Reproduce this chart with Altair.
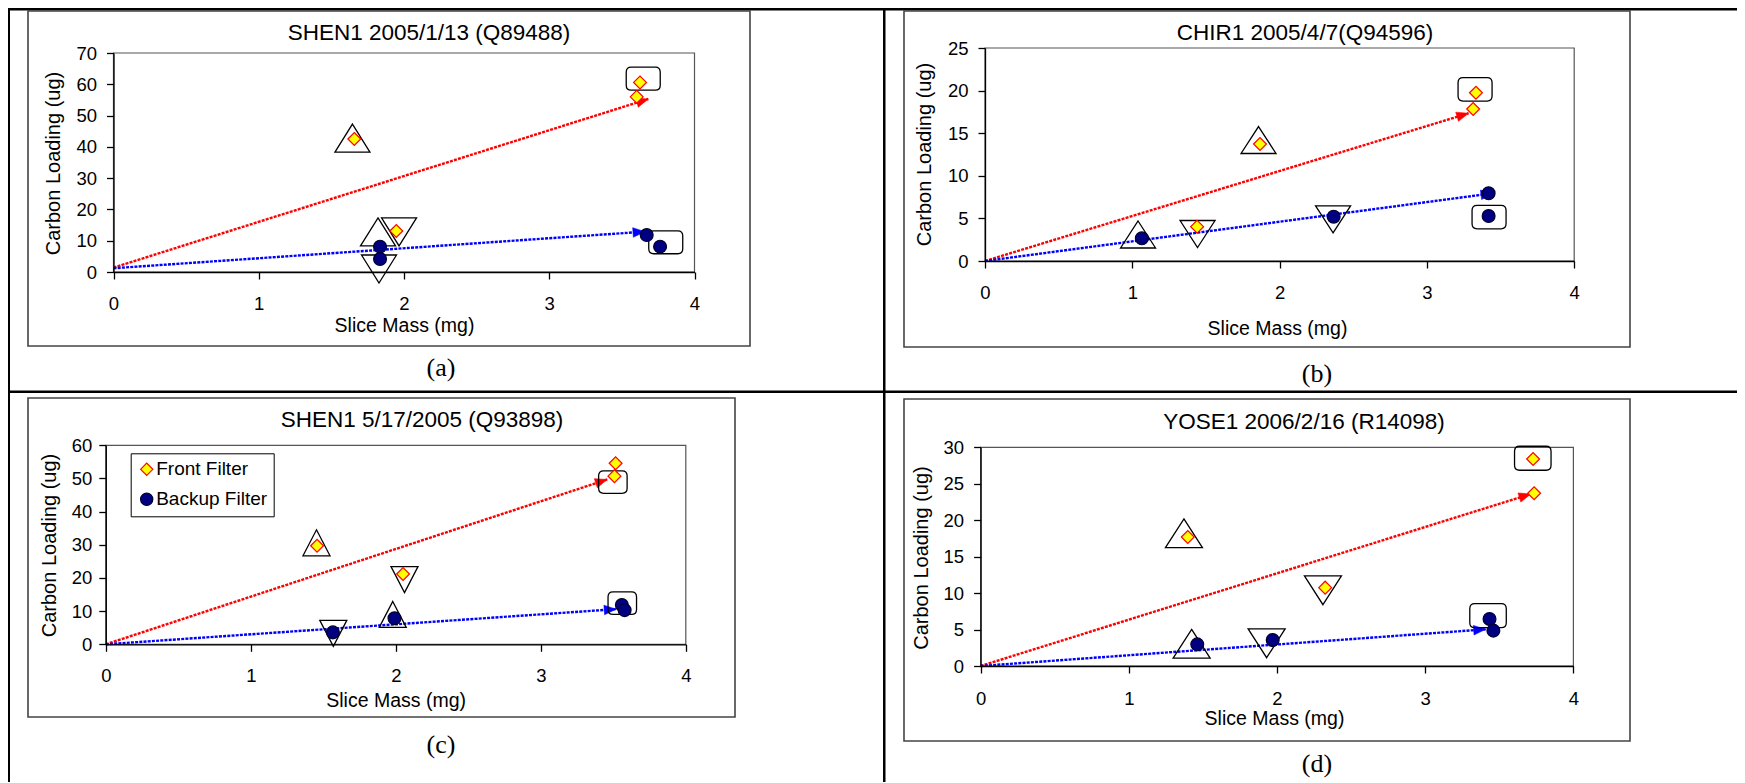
import math
import altair as alt
import pandas as pd

FONT = "Liberation Sans"
SERIF = "Liberation Serif"
SERIES = ["Front Filter", "Backup Filter"]
X_TICKS = [0, 1, 2, 3, 4]
X_TITLE = "Slice Mass (mg)"
Y_TITLE = "Carbon Loading (ug)"

# ---------------- panel (a) ----------------
A_TITLE = "SHEN1 2005/1/13 (Q89488)"
A_Y_TICKS = [0, 10, 20, 30, 40, 50, 60, 70]
A_FRONT_X = [1.658, 1.947, 3.625, 3.602]
A_FRONT_Y = [42.5, 13.1, 60.6, 56.0]
A_BACKUP_X = [1.835, 1.835, 3.671, 3.763]
A_BACKUP_Y = [8.1, 4.15, 11.8, 8.1]
A_RED_ARROW = [0.0, 1.4, 3.682, 55.3]
A_BLUE_ARROW = [0.0, 1.2, 3.659, 12.9]
A_TRI_UP_X = [1.645, 1.821]
A_TRI_UP_Y = [42.8, 12.8]
A_TRI_DOWN_X = [1.966, 1.828]
A_TRI_DOWN_Y = [12.8, 0.96]
A_BOX_X = [3.647, 3.802]
A_BOX_Y = [61.8, 9.5]

# ---------------- panel (b) ----------------
B_TITLE = "CHIR1 2005/4/7(Q94596)"
B_Y_TICKS = [0, 5, 10, 15, 20, 25]
B_FRONT_X = [1.867, 1.44, 3.333, 3.314]
B_FRONT_Y = [13.73, 4.03, 19.75, 17.84]
B_BACKUP_X = [1.065, 2.367, 3.419, 3.419]
B_BACKUP_Y = [2.66, 5.2, 7.95, 5.28]
B_RED_ARROW = [0.0, 0.0, 3.283, 17.34]
B_BLUE_ARROW = [0.0, 0.0, 3.448, 7.95]
B_TRI_UP_X = [1.857, 1.039]
B_TRI_UP_Y = [14.2, 3.11]
B_TRI_DOWN_X = [1.443, 2.363]
B_TRI_DOWN_Y = [3.17, 4.89]
B_BOX_X = [3.327, 3.422]
B_BOX_Y = [20.15, 5.16]

# ---------------- panel (c) ----------------
C_TITLE = "SHEN1 5/17/2005 (Q93898)"
C_Y_TICKS = [0, 10, 20, 30, 40, 50, 60]
C_FRONT_X = [1.457, 2.05, 3.516, 3.508]
C_FRONT_Y = [29.7, 21.2, 54.6, 50.7]
C_BACKUP_X = [1.991, 1.566, 3.559, 3.578]
C_BACKUP_Y = [7.84, 3.6, 11.85, 10.3]
C_RED_ARROW = [0.0, 0.0, 3.458, 49.7]
C_BLUE_ARROW = [0.0, 0.0, 3.52, 10.6]
C_TRI_UP_X = [1.453, 1.979]
C_TRI_UP_Y = [30.6, 9.0]
C_TRI_DOWN_X = [2.06, 1.569]
C_TRI_DOWN_Y = [19.5, 3.3]
C_BOX_X = [3.497, 3.562]
C_BOX_Y = [48.9, 12.4]

# ---------------- panel (d) ----------------
D_TITLE = "YOSE1 2006/2/16 (R14098)"
D_Y_TICKS = [0, 5, 10, 15, 20, 25, 30]
D_FRONT_X = [1.398, 2.325, 3.728, 3.735]
D_FRONT_Y = [17.7, 10.75, 28.4, 23.7]
D_BACKUP_X = [1.462, 1.971, 3.434, 3.46]
D_BACKUP_Y = [2.97, 3.57, 6.45, 4.85]
D_RED_ARROW = [0.0, 0.0, 3.713, 23.6]
D_BLUE_ARROW = [0.0, 0.0, 3.408, 5.03]
D_TRI_UP_X = [1.372, 1.424]
D_TRI_UP_Y = [18.2, 3.05]
D_TRI_DOWN_X = [2.31, 1.93]
D_TRI_DOWN_Y = [10.38, 3.11]
D_BOX_X = [3.726, 3.424]
D_BOX_Y = [28.5, 6.9]

# ---------------- layout / style (pixels inside each table cell) ----------------
LAYOUT = {
    "a": dict(cw=875, ch=382, plot=(105.5, 686.5, 45, 264), box=(20, 742, 3, 338),
              title_xy=(421, 25), xt=(396, 53), yt=(-60.5, 155), lab="(a)", lab_xy=(433, 360),
              ylabpad=10, xlabpad=24, tri=(35, 28), rbox=(34, 23),
              borders=[(0, 875, 0, 2.5), (0, 2, 0, 382)], legend=None),
    "b": dict(cw=854, ch=382, plot=(102, 691.2, 40, 253), box=(21, 747, 3, 339),
              title_xy=(422, 25), xt=(394, 67), yt=(-61, 146), lab="(b)", lab_xy=(434, 366),
              ylabpad=10, xlabpad=24, tri=(35, 27), rbox=(34, 23.5),
              borders=[(0, 854, 0, 2.5), (0, 2.5, 0, 382)], legend=None),
    "c": dict(cw=875, ch=378, plot=(97.8, 677.8, 55.3, 254.3), box=(20, 727, 8, 327),
              title_xy=(414, 30), xt=(387.6, 55.7), yt=(-56.4, 155), lab="(c)", lab_xy=(433, 355),
              ylabpad=7, xlabpad=24, tri=(27, 26), rbox=(28.5, 22.5),
              borders=[(0, 875, 0.5, 3), (0, 2, 0, 392)], legend=(122.7, 63.3)),
    "d": dict(cw=854, ch=378, plot=(97.6, 690.4, 57.3, 276), box=(21, 747, 9, 351),
              title_xy=(421, 32), xt=(391, 52.3), yt=(-59.6, 167.5), lab="(d)", lab_xy=(434, 374),
              ylabpad=10, xlabpad=25, tri=(37, 28.7), rbox=(36.5, 24),
              borders=[(0, 854, 0.5, 3), (0, 2.5, 0, 392)], legend=None),
}

DATA = {
    "a": (A_TITLE, A_Y_TICKS, A_FRONT_X, A_FRONT_Y, A_BACKUP_X, A_BACKUP_Y, A_RED_ARROW, A_BLUE_ARROW,
          A_TRI_UP_X, A_TRI_UP_Y, A_TRI_DOWN_X, A_TRI_DOWN_Y, A_BOX_X, A_BOX_Y),
    "b": (B_TITLE, B_Y_TICKS, B_FRONT_X, B_FRONT_Y, B_BACKUP_X, B_BACKUP_Y, B_RED_ARROW, B_BLUE_ARROW,
          B_TRI_UP_X, B_TRI_UP_Y, B_TRI_DOWN_X, B_TRI_DOWN_Y, B_BOX_X, B_BOX_Y),
    "c": (C_TITLE, C_Y_TICKS, C_FRONT_X, C_FRONT_Y, C_BACKUP_X, C_BACKUP_Y, C_RED_ARROW, C_BLUE_ARROW,
          C_TRI_UP_X, C_TRI_UP_Y, C_TRI_DOWN_X, C_TRI_DOWN_Y, C_BOX_X, C_BOX_Y),
    "d": (D_TITLE, D_Y_TICKS, D_FRONT_X, D_FRONT_Y, D_BACKUP_X, D_BACKUP_Y, D_RED_ARROW, D_BLUE_ARROW,
          D_TRI_UP_X, D_TRI_UP_Y, D_TRI_DOWN_X, D_TRI_DOWN_Y, D_BOX_X, D_BOX_Y),
}

DUMMY = pd.DataFrame({"k": [0]})
ARROW_PATH = "M0,0 L-2,-0.8 L-2,0.8 Z"
ARROW_SIZE = 144


def tri_path(w, h, up=True):
    k = h / w
    if up:
        return f"M0,{-k:.3f} L1,{k:.3f} L-1,{k:.3f} Z"
    return f"M0,{k:.3f} L1,{-k:.3f} L-1,{-k:.3f} Z"


def rbox_path(w, h, r=5.0):
    s = w / 2.0
    k = h / w
    c = r / s
    return (f"M{-1 + c:.3f},{-k:.3f} L{1 - c:.3f},{-k:.3f} Q1,{-k:.3f} 1,{-k + c:.3f} "
            f"L1,{k - c:.3f} Q1,{k:.3f} {1 - c:.3f},{k:.3f} L{-1 + c:.3f},{k:.3f} "
            f"Q-1,{k:.3f} -1,{k - c:.3f} L-1,{-k + c:.3f} Q-1,{-k:.3f} {-1 + c:.3f},{-k:.3f} Z")


def prect(x1, x2, y1, y2, **kw):
    return alt.Chart(DUMMY).mark_rect(**kw).encode(
        x=alt.value(x1), x2=alt.value(x2), y=alt.value(y1), y2=alt.value(y2))


def ptext(txt, x, y, font, size):
    return alt.Chart(DUMMY).mark_text(text=txt, font=font, fontSize=size, color="black",
                                      align="center", baseline="middle").encode(
        x=alt.value(x), y=alt.value(y))


def make_panel(key):
    lay = LAYOUT[key]
    (title, yticks, fx, fy, bx, by, red, blue, tux, tuy, tdx, tdy, rbx, rby) = DATA[key]
    ymax = yticks[-1]
    L, R, T, B = lay["plot"]
    cw, ch = lay["cw"], lay["ch"]

    xaxis = alt.Axis(values=X_TICKS, format="d", orient="bottom", offset=B - ch, tickSize=7,
                     tickWidth=1.3, tickColor="black", domainColor="black", domainWidth=1.3,
                     labelFont=FONT, labelFontSize=18.5, labelColor="black", labelBaseline="middle",
                     labelPadding=lay["xlabpad"], labelFlush=False, grid=False, zindex=1,
                     title=X_TITLE, titleFont=FONT, titleFontSize=19.5, titleFontWeight="normal",
                     titleColor="black", titleX=lay["xt"][0], titleY=lay["xt"][1],
                     titleAlign="center", titleBaseline="middle", titleAngle=0)
    yaxis = alt.Axis(values=yticks, format="d", orient="left", offset=-L, tickSize=7,
                     tickWidth=1.3, tickColor="black", domainColor="black", domainWidth=1.3,
                     labelFont=FONT, labelFontSize=18.5, labelColor="black",
                     labelPadding=lay["ylabpad"], labelFlush=False, grid=False, zindex=1,
                     title=Y_TITLE, titleFont=FONT, titleFontSize=20, titleFontWeight="normal",
                     titleColor="black", titleX=lay["yt"][0], titleY=lay["yt"][1],
                     titleAlign="center", titleBaseline="middle", titleAngle=270)
    xsc = alt.Scale(domain=[0, 4], range=[L, R], nice=False, zero=False)
    ysc = alt.Scale(domain=[0, ymax], range=[B, T], nice=False, zero=False)

    def X(f):
        return alt.X(f"{f}:Q", scale=xsc, axis=xaxis)

    def Y(f):
        return alt.Y(f"{f}:Q", scale=ysc, axis=yaxis)

    layers = []
    # table cell borders
    for (x1, x2, y1, y2) in lay["borders"]:
        layers.append(prect(x1, x2, y1, y2, fill="black"))
    # chart area box
    bx1, bx2, by1, by2 = lay["box"]
    layers.append(prect(bx1, bx2, by1, by2, fill="white", stroke="#444", strokeWidth=1.6))
    # plot frame
    frame = pd.DataFrame({"x": [0], "x2": [4], "y": [0], "y2": [ymax]})
    layers.append(alt.Chart(frame).mark_rect(fillOpacity=0, stroke="#555", strokeWidth=1.2).encode(
        x=X("x"), x2=alt.X2("x2"), y=Y("y"), y2=alt.Y2("y2")))
    # arrows
    for arr, col in ((red, "#ff0000"), (blue, "#0000ff")):
        adf = pd.DataFrame({"x": [arr[0]], "y": [arr[1]], "x2": [arr[2]], "y2": [arr[3]]})
        layers.append(alt.Chart(adf).mark_rule(color=col, strokeWidth=2.4, strokeDash=[3, 1.2]).encode(
            x=X("x"), x2=alt.X2("x2"), y=Y("y"), y2=alt.Y2("y2")))
        dx = (arr[2] - arr[0]) * (R - L) / 4.0
        dy = (arr[3] - arr[1]) * (B - T) / ymax
        ang = (360 - math.degrees(math.atan2(dy, dx))) % 360
        hdf = pd.DataFrame({"x": [arr[2]], "y": [arr[3]]})
        layers.append(alt.Chart(hdf).mark_point(shape=ARROW_PATH, size=ARROW_SIZE, filled=True,
                                                fill=col, stroke=col, strokeWidth=0.5, opacity=1,
                                                angle=round(ang, 2)).encode(x=X("x"), y=Y("y")))
    # annotation outlines
    tw, th = lay["tri"]
    rw, rh = lay["rbox"]
    for xs, ys, path, w in ((tux, tuy, tri_path(tw, th, True), tw),
                            (tdx, tdy, tri_path(tw, th, False), tw),
                            (rbx, rby, rbox_path(rw, rh), rw)):
        sdf = pd.DataFrame({"x": xs, "y": ys})
        layers.append(alt.Chart(sdf).mark_point(shape=path, size=w * w, filled=False, stroke="black",
                                                strokeWidth=1.3, opacity=1).encode(x=X("x"), y=Y("y")))
    # data points
    pts = pd.DataFrame({"x": fx + bx, "y": fy + by,
                        "series": [SERIES[0]] * len(fx) + [SERIES[1]] * len(bx)})
    if lay["legend"] is None:
        leg = None
    else:
        leg = alt.Legend(title=None, orient="none", legendX=lay["legend"][0], legendY=lay["legend"][1],
                         padding=6.5, rowPadding=10, labelFont=FONT, labelFontSize=19, labelColor="black",
                         labelOffset=0, symbolSize=150, symbolStrokeWidth=1.2, strokeColor="black",
                         fillColor="white")
    layers.append(alt.Chart(pts).mark_point(filled=True, opacity=1, size=165, strokeWidth=1.2).encode(
        x=X("x"), y=Y("y"),
        shape=alt.Shape("series:N", scale=alt.Scale(domain=SERIES, range=["diamond", "circle"]), legend=leg),
        fill=alt.Fill("series:N", scale=alt.Scale(domain=SERIES, range=["#ffff00", "#000080"]), legend=leg),
        stroke=alt.Stroke("series:N", scale=alt.Scale(domain=SERIES, range=["#ff0000", "#000030"]), legend=leg),
    ))
    # texts
    layers.append(ptext(title, lay["title_xy"][0], lay["title_xy"][1], FONT, 22.5))
    layers.append(ptext(lay["lab"], lay["lab_xy"][0], lay["lab_xy"][1], SERIF, 26))
    return alt.layer(*layers).properties(width=cw, height=ch)


chart = alt.concat(
    make_panel("a"), make_panel("b"), make_panel("c"), make_panel("d"),
    columns=2, spacing=0, bounds="flush",
).resolve_scale(
    x="independent", y="independent", fill="independent", stroke="independent", shape="independent"
).resolve_legend(
    fill="independent", stroke="independent", shape="independent"
).configure_view(stroke=None).properties(padding=0)

chart.save("out.html", embed_options={"renderer": "svg", "actions": False})
